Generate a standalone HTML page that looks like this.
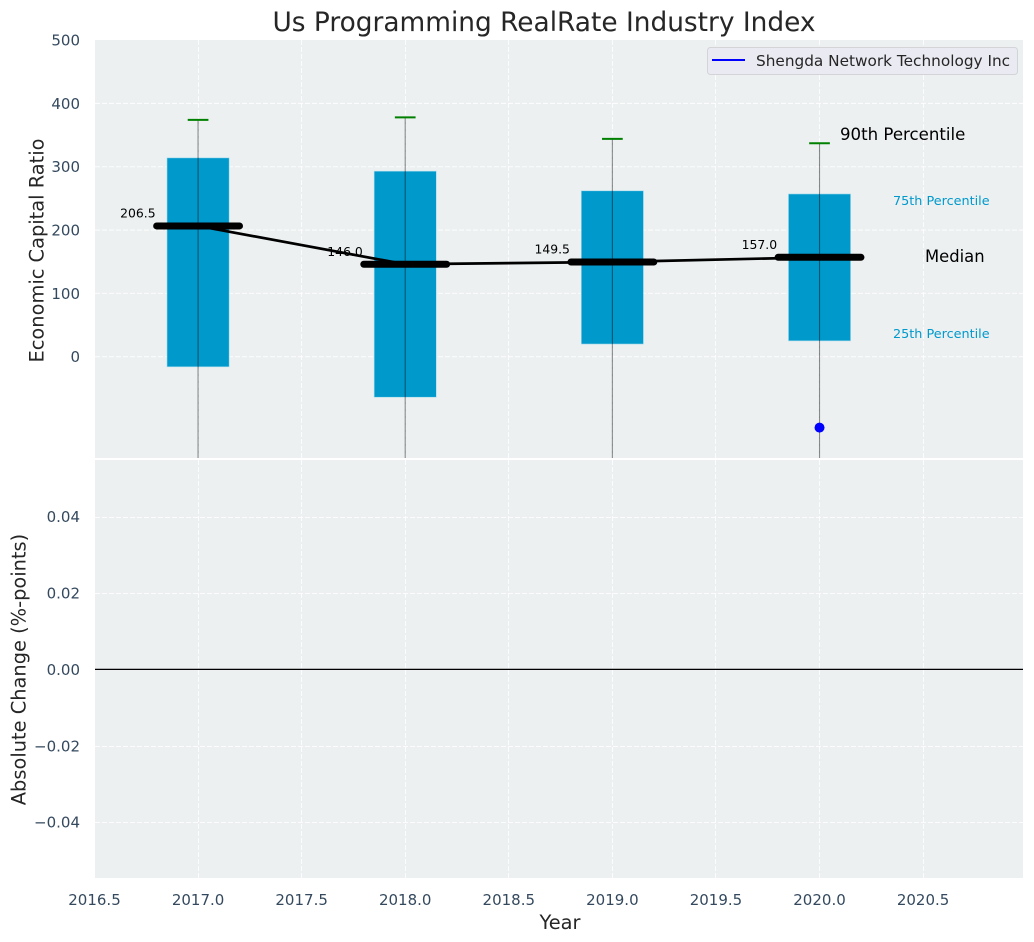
<!DOCTYPE html>
<html lang="en">
<head>
<meta charset="utf-8">
<title>Us Programming RealRate Industry Index</title>
<style>
html,body{margin:0;padding:0;background:#fff;}
body{width:1034px;height:942px;overflow:hidden;}
svg{display:block;font-family:"DejaVu Sans","Liberation Sans",sans-serif;}
</style>
</head>
<body>
<svg id="chart" xmlns="http://www.w3.org/2000/svg" width="1034" height="942" viewBox="0 0 1034 942">
  <defs>
    <clipPath id="clip-top"><rect x="95" y="40" width="928" height="418"/></clipPath>
    <clipPath id="clip-bottom"><rect x="95" y="460" width="928" height="418"/></clipPath>
  </defs>
  <rect x="95" y="40" width="928" height="418" fill="#ecf0f1"/>
  <rect x="95" y="460" width="928" height="418" fill="#ecf0f1"/>
  <g id="grid"></g>
  <g id="marks-top" clip-path="url(#clip-top)"></g>
  <g id="marks-bottom" clip-path="url(#clip-bottom)"></g>
  <g id="ticks"></g>
  <text x="544" y="31" text-anchor="middle" font-size="26.4" fill="#262626">Us Programming RealRate Industry Index</text>
  <text transform="translate(43.5 250.5) rotate(-90)" text-anchor="middle" font-size="19.4" fill="#262626">Economic Capital Ratio</text>
  <text transform="translate(25.5 669.5) rotate(-90)" text-anchor="middle" font-size="19.4" fill="#262626">Absolute Change (%-points)</text>
  <text x="560" y="929" text-anchor="middle" font-size="19.4" fill="#262626">Year</text>
  <g>
    <rect x="707.5" y="47.5" width="310" height="27" rx="3" fill="#eaeaf2" stroke="#d3d3d8" stroke-width="1"/>
    <line x1="712" x2="745" y1="60" y2="60" stroke="#0000ff" stroke-width="2"/>
    <text x="756" y="66" font-size="15.3" fill="#262626">Shengda Network Technology Inc</text>
  </g>
</svg>
<script>
const years = [2017, 2018, 2019, 2020];
const medians = [206.5, 146.0, 149.5, 157.0];
const q75 = [314, 293, 262, 257];
const q25 = [-16, -64, 20, 25];
const p90 = [374, 378, 344, 337];
const p10 = [-260, -260, -260, -260];
const companyYears = [2020];
const companyValues = [-112];
const zeroChange = [0];
const xTicks = [2016.5, 2017, 2017.5, 2018, 2018.5, 2019, 2019.5, 2020, 2020.5];
const yTicksTop = [0, 100, 200, 300, 400, 500];
const yTicksBottom = [-0.04, -0.02, 0, 0.02, 0.04];

const NS = 'http://www.w3.org/2000/svg';
const xScale = v => 94.5 + (v - 2016.5) * 207.15;
const yTop = v => 356.7 - v * 0.6332;
const yBottom = v => 669.4 - v * 3820;

function make(parent, tag, attrs, text) {
  const el = document.createElementNS(NS, tag);
  for (const k in attrs) el.setAttribute(k, attrs[k]);
  if (text !== undefined) el.textContent = text;
  parent.appendChild(el);
  return el;
}

const grid = document.getElementById('grid');
const top_ = document.getElementById('marks-top');
const bottom = document.getElementById('marks-bottom');
const ticks = document.getElementById('ticks');
const gridStyle = {stroke: '#ffffff', 'stroke-width': 1.1, 'stroke-dasharray': '5 2', opacity: 0.85};

xTicks.forEach(t => {
  const x = Math.floor(xScale(t)) + 0.5;
  if (x >= 95) {
    const a = make(grid, 'line', {x1: x, x2: x, y1: 40, y2: 458, ...gridStyle});
    
    
    const b = make(grid, 'line', {x1: x, x2: x, y1: 460, y2: 878, ...gridStyle});
    
    
  }
  const label = make(ticks, 'text', {x: xScale(t), y: 905, 'text-anchor': 'middle', 'font-size': 15, fill: '#34495e'}, t.toFixed(1));
  
  
});

yTicksTop.forEach(t => {
  const y = yTop(t);
  if (y > 41) {
    const a = make(grid, 'line', {x1: 95, x2: 1023, y1: y, y2: y, ...gridStyle});
    
    
  }
  const label = make(ticks, 'text', {x: 80, y: yTop(t) + 5.5, 'text-anchor': 'end', 'font-size': 15, fill: '#34495e'}, String(t));
  
  
});

yTicksBottom.forEach(t => {
  const y = Math.round(yBottom(t)) + 0.5;
  const a = make(grid, 'line', {x1: 95, x2: 1023, y1: y, y2: y, ...gridStyle});
  
  
  const txt = (t < 0 ? '\u2212' : '') + Math.abs(t).toFixed(2);
  const label = make(ticks, 'text', {x: 80, y: yBottom(t) + 5.5, 'text-anchor': 'end', 'font-size': 15, fill: '#34495e'}, txt);
  
  
});

years.forEach((yr, i) => {
  const x = xScale(yr);
  const box = make(top_, 'rect', {x: xScale(yr - 0.15), y: yTop(q75[i]), width: xScale(yr + 0.15) - xScale(yr - 0.15), height: yTop(q25[i]) - yTop(q75[i]), fill: '#0099cc', stroke: '#a8dcec', 'stroke-width': 0.6});
  
  
  const whisker = make(top_, 'line', {x1: x, x2: x, y1: yTop(p90[i]), y2: yTop(p10[i]), stroke: '#000000', 'stroke-opacity': 0.45, 'stroke-width': 1.1});
  
  
  const cap = make(top_, 'line', {x1: xScale(yr - 0.05), x2: xScale(yr + 0.05), y1: yTop(p90[i]), y2: yTop(p90[i]), stroke: '#008000', 'stroke-width': 2});
  
  
});

const trend = make(top_, 'polyline', {points: years.map((yr, i) => xScale(yr) + ',' + yTop(medians[i])).join(' '), fill: 'none', stroke: '#000000', 'stroke-width': 2.7});



years.forEach((yr, i) => {
  const m = make(top_, 'line', {x1: xScale(yr - 0.2), x2: xScale(yr + 0.2), y1: yTop(medians[i]), y2: yTop(medians[i]), stroke: '#000000', 'stroke-width': 7, 'stroke-linecap': 'round'});
  
  
  const t = make(top_, 'text', {x: xScale(yr - 0.2) - 1, y: yTop(medians[i]) - 8.3, 'text-anchor': 'end', 'font-size': 12.4, fill: '#000000'}, medians[i].toFixed(1));
  
  
});

companyYears.forEach((yr, i) => {
  const dot = make(top_, 'circle', {cx: xScale(yr), cy: yTop(companyValues[i]), r: 5, fill: '#0000ff'});
  
  
});

zeroChange.forEach(v => {
  const l = make(bottom, 'line', {x1: 95, x2: 1023, y1: yBottom(v), y2: yBottom(v), stroke: '#000000', 'stroke-width': 1.2});
  
  
});

const p90Label = make(top_, 'text', {x: 840, y: 140, 'font-size': 16.6, fill: '#000000'}, '90th Percentile');


const p75Label = make(top_, 'text', {x: 893, y: 205, 'font-size': 12.8, fill: '#0099cc'}, '75th Percentile');


const medLabel = make(top_, 'text', {x: 925, y: 262, 'font-size': 16.4, fill: '#000000'}, 'Median');


const p25Label = make(top_, 'text', {x: 893, y: 338, 'font-size': 12.8, fill: '#0099cc'}, '25th Percentile');


</script>
</body>
</html>
